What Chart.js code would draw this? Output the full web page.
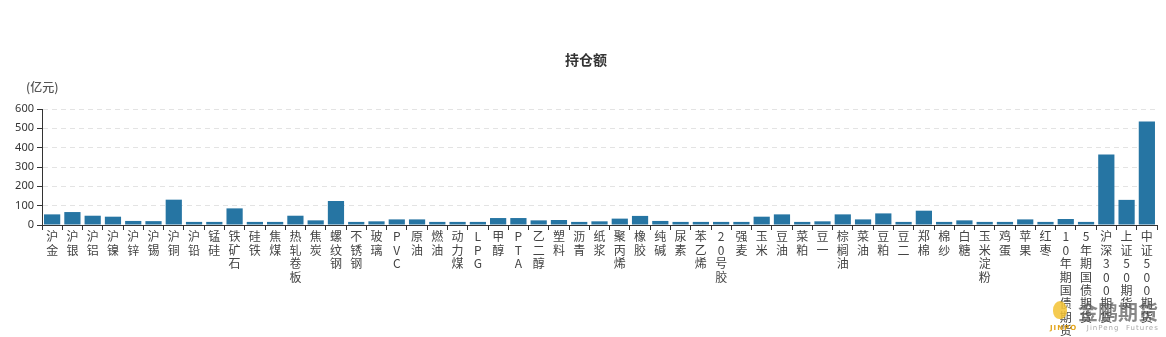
<!DOCTYPE html>
<html>
<head>
<meta charset="utf-8">
<script src="https://cdn.jsdelivr.net/npm/chart.js@4/dist/chart.umd.min.js"></script>
<style>
  html, body { margin: 0; padding: 0; background: #fff; }
  #wrap { position: relative; width: 1166px; height: 337px; }
  #logo { position: absolute; left: 1050px; top: 297px; width: 116px; height: 40px; pointer-events: none; }
  #logo .dot { position: absolute; left: 3px; top: 4px; width: 14px; height: 18px; border-radius: 50% 50% 45% 45%; background: #f3c232; opacity: 0.85; }
  #logo .cn { position: absolute; left: 28px; top: 0; font: bold 20px "Noto Sans CJK SC"; color: #555; opacity: 0.7; letter-spacing: 0; }
  #logo .en { position: absolute; left: 0; top: 27px; font: 7px "DejaVu Sans"; color: #aaa; letter-spacing: 1px; white-space: nowrap; }
  #logo .en b { color: #e3a41a; }
</style>
</head>
<body>
<div id="wrap">
  <canvas id="chart" width="1166" height="337"></canvas>
  <div id="logo"><div class="dot"></div><div class="cn">金鹏期货</div><div class="en"><b>JINPO</b>&nbsp;&nbsp;&nbsp;JinPeng&nbsp;&nbsp;Futures</div></div>
</div>
<script>
const categories = [
  '沪金', '沪银', '沪铝', '沪镍', '沪锌', '沪锡', '沪铜', '沪铅', '锰硅', '铁矿石',
  '硅铁', '焦煤', '热轧卷板', '焦炭', '螺纹钢', '不锈钢', '玻璃', 'PVC', '原油', '燃油',
  '动力煤', 'LPG', '甲醇', 'PTA', '乙二醇', '塑料', '沥青', '纸浆', '聚丙烯', '橡胶',
  '纯碱', '尿素', '苯乙烯', '20号胶', '强麦', '玉米', '豆油', '菜粕', '豆一', '棕榈油',
  '菜油', '豆粕', '豆二', '郑棉', '棉纱', '白糖', '玉米淀粉', '鸡蛋', '苹果', '红枣',
  '10年期国债期货', '5年期国债期货', '沪深300期货', '上证50期货', '中证500期货'
];
const holdValues = [
  55, 67, 48, 43, 21, 20, 131, 16, 16, 86,
  16, 16, 48, 24, 124, 16, 19, 29, 29, 16,
  16, 16, 36, 36, 24, 26, 16, 19, 33, 47,
  21, 16, 16, 16, 16, 43, 55, 16, 19, 55,
  29, 60, 16, 74, 16, 24, 16, 16, 29, 16,
  31, 16, 365, 130, 535
];
const yTicks = [0, 100, 200, 300, 400, 500, 600];
const chartTitle = '持仓额';
const unitLabel = '(亿元)';

// each character on its own line, like the original vertical labels
const verticalLabels = categories.map(function (c) { return c.split(''); });

const headerText = {
  id: 'headerText',
  afterDraw(chart) {
    const ctx = chart.ctx;
    const area = chart.chartArea;
    ctx.save();
    ctx.fillStyle = '#333';
    ctx.font = 'bold 14px "Noto Sans CJK SC"';
    ctx.textAlign = 'center';
    ctx.textBaseline = 'middle';
    ctx.fillText(chartTitle, 586, 60);
    ctx.fillStyle = '#555';
    ctx.font = '500 12px "Noto Sans CJK SC"';
    ctx.textAlign = 'left';
    ctx.fillText(unitLabel, area.left - 16, area.top - 22);
    ctx.restore();
  }
};

new Chart(document.getElementById('chart'), {
  type: 'bar',
  data: {
    labels: verticalLabels,
    datasets: [{
      label: chartTitle,
      data: holdValues,
      backgroundColor: '#2675a3',
      barPercentage: 0.8,
      categoryPercentage: 1
    }]
  },
  options: {
    responsive: false,
    devicePixelRatio: 1,
    animation: false,
    layout: { padding: { top: 109, right: 9, left: 0, bottom: 0 } },
    plugins: {
      legend: { display: false },
      title: { display: false },
      tooltip: { enabled: false }
    },
    scales: {
      x: {
        offset: true,
        grid: {
          offset: true,
          drawOnChartArea: false,
          drawTicks: true,
          tickLength: 5,
          tickColor: '#333'
        },
        border: { display: true, color: '#333', width: 1 },
        ticks: {
          autoSkip: false,
          maxRotation: 0,
          minRotation: 0,
          padding: 0,
          color: '#444',
          font: { family: '"Noto Sans CJK SC"', size: 12, lineHeight: 1.12 }
        },
        afterFit(scale) { scale.height = 112; }
      },
      y: {
        min: 0,
        max: 600,
        afterBuildTicks(scale) { scale.ticks = yTicks.map(function (v) { return { value: v }; }); },
        grid: {
          color: '#e3e3e3',
          tickColor: '#333',
          tickLength: 5,
          tickBorderDash: []
        },
        border: { display: true, color: '#333', width: 1, dash: [5, 4] },
        ticks: {
          padding: 3,
          color: '#333',
          font: { family: '"Noto Sans", sans-serif', size: 11 }
        },
        afterFit(scale) { scale.width = 42; }
      }
    }
  },
  plugins: [headerText]
});
</script>
</body>
</html>
